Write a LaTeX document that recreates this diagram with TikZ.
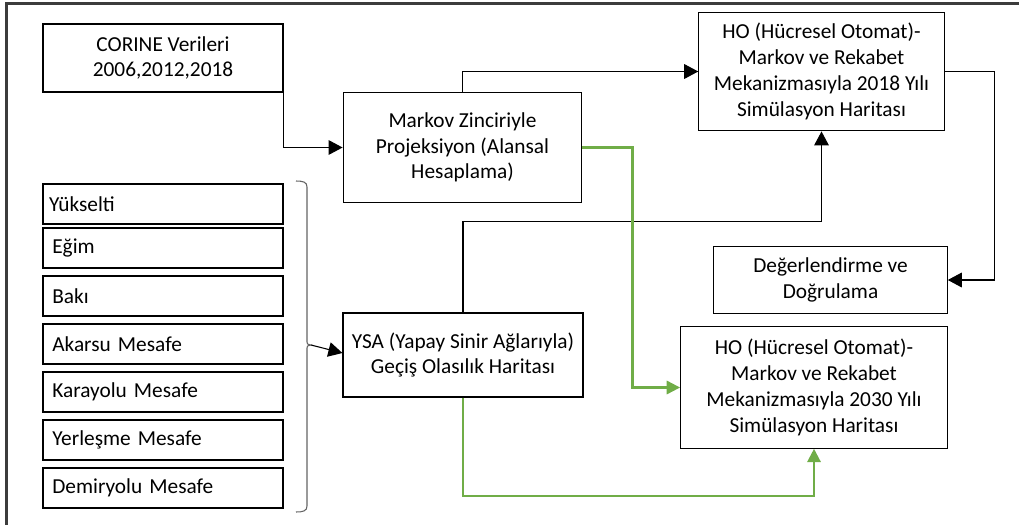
\documentclass[tikz,border=0pt]{standalone}
\usepackage{fontspec}
\setmainfont{Carlito}
\usetikzlibrary{arrows.meta}
\definecolor{flowgreen}{RGB}{112,173,71}
\definecolor{framegray}{RGB}{60,60,60}
\definecolor{bracegray}{RGB}{100,100,100}
\tikzset{
  box/.style={draw=black, line width=0.9pt, inner sep=2pt, align=center,
    font=\fontsize{16}{19.3}\selectfont},
  listbox/.style={draw=black, line width=0.9pt, inner sep=0pt,
    minimum width=180pt, minimum height=30pt, text width=166pt, align=left,
    font=\fontsize{16}{19.3}\selectfont},
  conn/.style={line width=0.8pt, draw=black,
    -{Triangle[length=10.5pt,width=11pt]}},
  gconn/.style={line width=1.6pt, draw=flowgreen,
    -{Triangle[length=10pt,width=10pt,fill=flowgreen]}}
}
\begin{document}
\begin{tikzpicture}[x=0.75pt, y=-0.75pt]
\useasboundingbox (0,0) rectangle (1019,525);

% outer frame (top and left edges)
\draw[framegray, line width=1.6pt] (1019,3.5) -- (6.5,3.5) -- (6.5,525);

% main process boxes
\node[box, minimum width=180pt, minimum height=51pt] (corine) at (163,58)
  {CORINE Verileri\\2006,2012,2018};
\node[box, minimum width=179pt, minimum height=82pt] (markov) at (462.5,147.5)
  {Markov Zinciriyle\\Projeksiyon (Alansal\\Hesaplama)};
\node[box, minimum width=184pt, minimum height=89pt] (ho18) at (821.5,71.5)
  {HO (Hücresel Otomat)-\\Markov ve Rekabet\\Mekanizmasıyla 2018 Yılı\\Simülasyon Haritası};
\node[box, minimum width=175pt, minimum height=50pt] (deg) at (830.5,280)
  {Değerlendirme ve\\Doğrulama};
\node[box, minimum width=200pt, minimum height=91pt] (ho30) at (814,387.5)
  {HO (Hücresel Otomat)-\\Markov ve Rekabet\\Mekanizmasıyla 2030 Yılı\\Simülasyon Haritası};
\node[box, minimum width=180pt, minimum height=63pt] (ysa) at (463,355)
  {YSA (Yapay Sinir Ağlarıyla)\\Geçiş Olasılık Haritası};

% factor boxes
\node[listbox] (f1) at (163,204) {\hspace*{-2.5pt}Yükselti};
\node[listbox] (f2) at (163,248) {Eğim};
\node[listbox] (f3) at (163,296) {Bakı};
\node[listbox] (f4) at (163,344) {Akarsu Mesafe};
\node[listbox] (f5) at (163,392) {Karayolu Mesafe};
\node[listbox] (f6) at (163,440) {Yerleşme Mesafe};
\node[listbox] (f7) at (163,488) {Demiryolu Mesafe};

% brace grouping the factors
\draw[bracegray, line width=0.8pt]
  (296,181) .. controls (303,181) and (307,182) .. (307,187)
  -- (307,342) .. controls (307,344) .. (311,345)
  .. controls (307,346) .. (307,348)
  -- (307,506) .. controls (307,511) and (303,512) .. (296,512);
\coordinate (bracetip) at (311,345);

% black connectors
\draw[conn] ([yshift=-9pt]corine.east) |- (markov.west);
\draw[conn] (markov.north) |- (ho18.west);
\draw[conn] (ho18.east) -- ++(50,0) |- (deg.east);
\draw[conn] (ysa.north) -- ++(0,-91) -| (ho18.south);
\draw[conn] (bracetip) -- ([yshift=1.5pt]ysa.west);

% green connectors
\draw[gconn] (markov.east) -- ++(50,0) |- (ho30.west);
\draw[gconn] (ysa.south) -- ++(0,98) -| (ho30.south);
\end{tikzpicture}
\end{document}
